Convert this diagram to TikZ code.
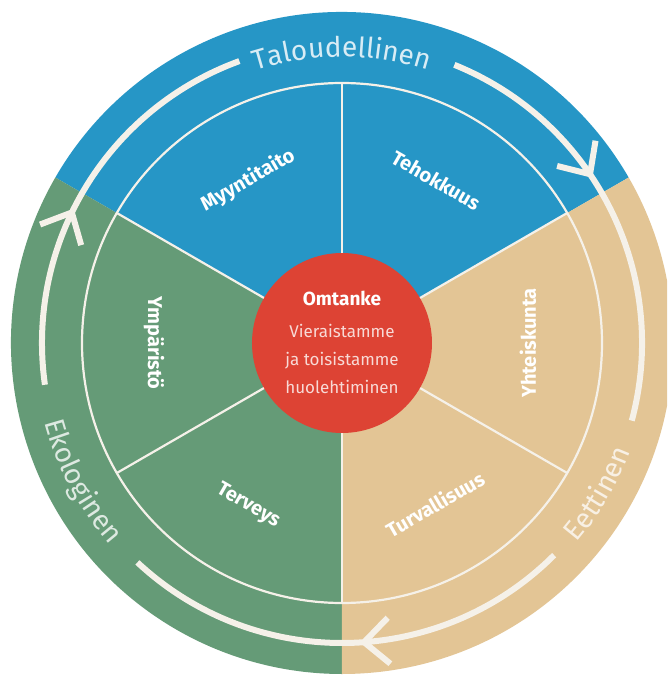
\documentclass[tikz,border=0pt]{standalone}
\usepackage{fontspec}
\setmainfont{Fira Sans}
\usetikzlibrary{arrows.meta,decorations.markings,decorations.text}
\definecolor{otblue}{RGB}{38,150,198}
\definecolor{otgreen}{RGB}{101,155,119}
\definecolor{ottan}{RGB}{227,197,149}
\definecolor{otred}{RGB}{221,67,52}
\definecolor{otline}{RGB}{245,241,233}
\newcommand\ringfont{\fontsize{28}{30}\selectfont}

\begin{document}
\begin{tikzpicture}[
    x=1pt,y=1pt,
    divider/.style={otline,line width=2.2pt},
    ringarrow/.style={otline,line width=6pt,postaction={decorate}},
    barbtip/.style={decoration={markings,mark=at position #1 with {\arrow{Straight Barb[length=25pt,width=46pt,line width=6pt]}}}},
    ringtext/.style 2 args={decorate,decoration={text along path,text align=center,text={|\ringfont\color{#1}|#2}}},
    seglabel/.style={text=white,font=\fontsize{20}{22}\selectfont\bfseries,inner sep=0pt},
    corelabel/.style={align=center,text=otred!20!white,font=\fontsize{17}{28}\selectfont}
  ]
    \clip (-342,-332) rectangle (325,343);
    \fill[white] (-342,-332) rectangle (325,343);
    \fill[otblue] (0,0) -- (30:331) arc[start angle=30,end angle=150,radius=331] -- cycle;
    \fill[otgreen] (0,0) -- (150:331) arc[start angle=150,end angle=270,radius=331] -- cycle;
    \fill[ottan] (0,0) -- (270:331) arc[start angle=270,end angle=390,radius=331] -- cycle;
    \draw[divider] (0,0) circle[radius=260];
    \foreach \a in {30,90,...,330}
      \draw[divider] (\a:80) -- (\a:260);
    \node[circle,fill=otred,minimum size=180pt,inner sep=0pt] (core) at (0,0) {};

    % clockwise ring, broken by the three headings
    \draw[ringarrow,barbtip=0.417] (68:300) arc[start angle=68,end angle=-15,radius=300];
    \draw[ringarrow,barbtip=0.473] (-45:300) arc[start angle=-45,end angle=-133,radius=300];
    \draw[ringarrow,barbtip=0.444] (188:300) arc[start angle=188,end angle=110,radius=300];
    \path[ringtext={otblue!18!white}{Taloudellinen}] (115:286) arc[start angle=115,end angle=65,radius=286];
    \path[ringtext={ottan!25!white}{Eettinen}] (-52:308) arc[start angle=-52,end angle=-9,radius=308];
    \path[ringtext={otgreen!22!white}{Ekologinen}] (184:308) arc[start angle=184,end angle=232,radius=308];

    \node[seglabel,rotate=30] (myynti) at (120:188) {Myyntitaito};
    \node[seglabel,rotate=-30] (teho) at (60:188) {Tehokkuus};
    \node[seglabel,rotate=90] (yhteis) at (0:186) {Yhteiskunta};
    \node[seglabel,rotate=30] (turva) at (-60:186) {Turvallisuus};
    \node[seglabel,rotate=-30] (terveys) at (240:188) {Terveys};
    \node[seglabel,rotate=-90] (ympar) at (180:188) {Ympäristö};

    \node[font=\fontsize{19}{22}\selectfont\bfseries,text=white] (omtanke) at (0,45) {Omtanke};
    \node[corelabel] (huolenpito) at (0,-16) {Vieraistamme\\ja toisistamme\\huolehtiminen};
  \end{tikzpicture}
\end{document}
